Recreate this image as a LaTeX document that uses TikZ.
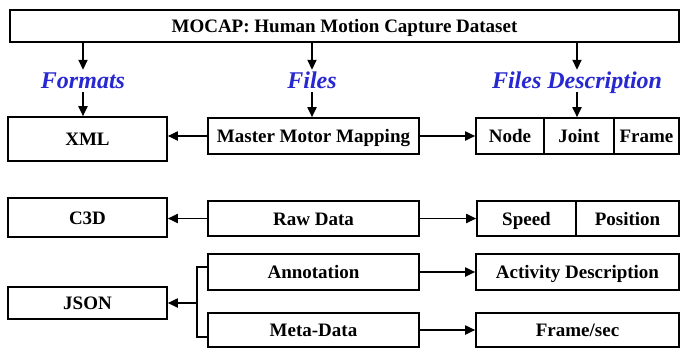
\documentclass[tikz,border=0pt]{standalone}
\usepackage{fontspec}
\setmainfont{Liberation Serif}
\usetikzlibrary{arrows.meta}
\definecolor{lblblue}{RGB}{40,40,210}
\begin{document}
\begin{tikzpicture}[x=1pt,y=-1pt,
  box/.style={draw, line width=1.6pt, inner sep=0pt, font=\fontsize{19}{19}\selectfont\bfseries, text height=13pt, text depth=0pt},
  lbl/.style={inner sep=0pt, text=lblblue, font=\fontsize{24}{24}\selectfont\bfseries\itshape, text height=18pt, text depth=4pt},
  arr/.style={line width=1.8pt, -{Triangle[length=10pt,width=9pt]}},
  con/.style={line width=1.6pt}]
\useasboundingbox (0,0) rectangle (680,349);
\fill[white] (0,0) rectangle (680,349);

\node[box, minimum width=669pt, minimum height=32pt] (top) at (344.5,26) {MOCAP: Human Motion Capture Dataset};

\node[lbl, anchor=base] (fmt) at (83,88) {Formats};
\node[lbl, anchor=base] (fil) at (312,88) {Files};
\node[lbl, anchor=base] (fd) at (577,88) {Files Description};

\node[box, minimum width=159pt, minimum height=44pt] (xml) at (87.5,139) {XML};
\node[box, minimum width=211pt, minimum height=36pt] (mmm) at (313.5,136) {Master Motor Mapping};
\node[box, minimum width=68pt, minimum height=36pt] (nd) at (510,136) {Node};
\node[box, minimum width=70pt, minimum height=36pt] (jt) at (579,136) {Joint};
\node[box, minimum width=65pt, minimum height=36pt] (fr) at (646.5,136) {Frame};

\node[box, minimum width=159pt, minimum height=39pt] (c3d) at (87.5,217.5) {C3D};
\node[box, minimum width=211pt, minimum height=35pt] (raw) at (313.5,218.5) {Raw Data};
\node[box, minimum width=99pt, minimum height=35pt] (spd) at (526.5,218.5) {Speed};
\node[box, minimum width=103pt, minimum height=35pt] (pos) at (627.5,218.5) {Position};

\node[box, minimum width=211pt, minimum height=36pt] (ann) at (313.5,272) {Annotation};
\node[box, minimum width=203pt, minimum height=36pt] (act) at (577.5,272) {Activity Description};
\node[box, minimum width=159pt, minimum height=32pt] (json) at (87.5,303) {JSON};
\node[box, minimum width=211pt, minimum height=34pt] (meta) at (313.5,330) {Meta-Data};
\node[box, minimum width=203pt, minimum height=34pt] (fps) at (577.5,330) {Frame/sec};

\draw[arr] (top.south -| fmt.north) -- (fmt.north);
\draw[arr] (top.south -| fil.north) -- (fil.north);
\draw[arr] (top.south -| fd.north) -- (fd.north);
\draw[arr] (fmt.south) -- (fmt.south |- xml.north);
\draw[arr] (fil.south) -- (fil.south |- mmm.north);
\draw[arr] (fd.south) -- (fd.south |- jt.north);

\draw[arr] (mmm.west) -- (xml.east |- mmm.west);
\draw[arr] (mmm.east) -- (nd.west);
\draw[arr] (raw.west) -- (raw.west -| c3d.east);
\draw[arr] (raw.east) -- (spd.west);
\draw[arr] (ann.east) -- (act.west);
\draw[arr] (meta.east) -- (fps.west);

\coordinate (br) at (197,303);
\draw[con] ([yshift=5pt]ann.west) -| (br) |- ([yshift=-7pt]meta.west);
\draw[arr] (br) -- (json.east);
\end{tikzpicture}
\end{document}
